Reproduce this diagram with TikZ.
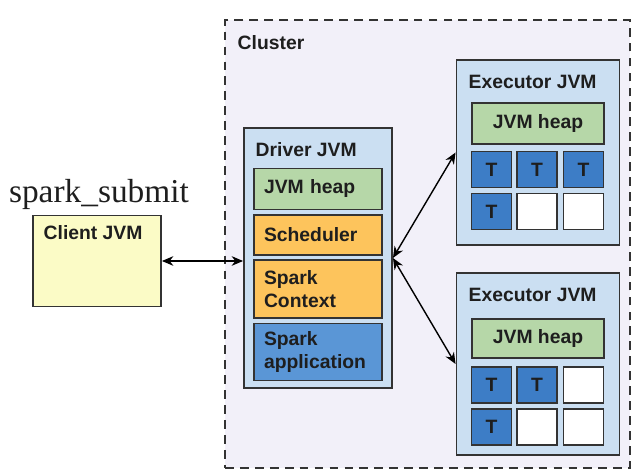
\documentclass[tikz,border=0pt]{standalone}
\usepackage{fontspec}
\setmainfont{Liberation Sans}
\newfontfamily\submitfont{Liberation Serif}
\usetikzlibrary{positioning, arrows.meta}

\definecolor{edge}{HTML}{333333}
\definecolor{ink}{HTML}{1E1E1E}
\definecolor{clusterbg}{HTML}{F2F0F9}
\definecolor{clientbg}{HTML}{FBFBC6}
\definecolor{jvmbg}{HTML}{CBDFF2}
\definecolor{heapbg}{HTML}{B6D7A8}
\definecolor{schedbg}{HTML}{FDC45C}
\definecolor{appbg}{HTML}{5A96D6}
\definecolor{taskbg}{HTML}{3D7DC6}

\begin{document}
\begin{tikzpicture}[x=0.02cm,y=-0.02cm,<->,>={Stealth[length=6.5pt,width=5.5pt]},line width=0.8pt]
  \tikzstyle{box}=[draw=edge,line width=1.1pt,inner sep=0pt]
  \tikzstyle{lbl}=[font=\bfseries\fontsize{11}{13.5}\selectfont,text=ink,inner sep=0pt]
  \tikzstyle{dbox}=[box,lbl,minimum width=2.56cm,text width=2.16cm,align=left]
  \tikzstyle{task}=[box,lbl,minimum width=0.8cm,minimum height=0.72cm]

  \useasboundingbox (0,0) rectangle (632,472);

  \node[box,dashed,dash pattern=on 5pt off 3.5pt,line width=1.3pt,fill=clusterbg,minimum width=8.1cm,minimum height=8.96cm] (cluster) at (427.5,244) {};
  \node[lbl,anchor=west] (clusterlbl) at (237,43) {Cluster};

  % client side
  \node[box,fill=clientbg,minimum width=2.56cm,minimum height=1.82cm] (client) at (97,261) {};
  \node[lbl,anchor=west] (clientlbl) at (43,233) {Client JVM};
  \node[font=\submitfont\fontsize{19}{20}\selectfont,text=ink,anchor=base,inner sep=0pt] (submit) at (99,203) {spark\_submit};

  % driver
  \node[box,fill=jvmbg,minimum width=2.96cm,minimum height=5.2cm] (driver) at (318,258) {};
  \node[lbl,anchor=west] (driverlbl) at (255,150) {Driver JVM};
  \node[dbox,fill=heapbg,minimum height=0.82cm] (dheap) at (318,189) {JVM heap};
  \node[dbox,fill=schedbg,minimum height=0.8cm] (sched) at (318,235) {Scheduler};
  \node[dbox,fill=schedbg,minimum height=1.16cm] (ctx) at (318,289) {Spark\\Context};
  \node[dbox,fill=appbg,minimum height=1.14cm] (app) at (318,352) {Spark\\application};

  % executors
  \node[box,fill=jvmbg,minimum width=3.26cm,minimum height=3.7cm] (exec1) at (538,152.5) {};
  \node[lbl,anchor=west] (exec1lbl) at (468,82) {Executor JVM};
  \node[box,lbl,fill=heapbg,minimum width=2.64cm,minimum height=0.82cm] (eheap1) at (538,123.5) {JVM heap};

  \node[box,fill=jvmbg,minimum width=3.26cm,minimum height=3.64cm] (exec2) at (538,364) {};
  \node[lbl,anchor=west] (exec2lbl) at (468,295) {Executor JVM};
  \node[box,lbl,fill=heapbg,minimum width=2.64cm,minimum height=0.78cm] (eheap2) at (538,338.5) {JVM heap};

  \foreach \x/\y [count=\i] in {491.5/169.5, 537/169.5, 583.5/169.5, 491.5/211.5, 491.5/385, 537/385, 491.5/427}
    \node[task,fill=taskbg] (t\i) at (\x,\y) {T};
  \foreach \x/\y [count=\i] in {537/211.5, 583.5/211.5, 583.5/385, 537/427, 583.5/427}
    \node[task,fill=white] (free\i) at (\x,\y) {};

  \draw (client.east) -- (client.east -| driver.west);
  \draw (driver.east) -- (exec1.west);
  \draw (driver.east) -- (exec2.west);
\end{tikzpicture}
\end{document}
